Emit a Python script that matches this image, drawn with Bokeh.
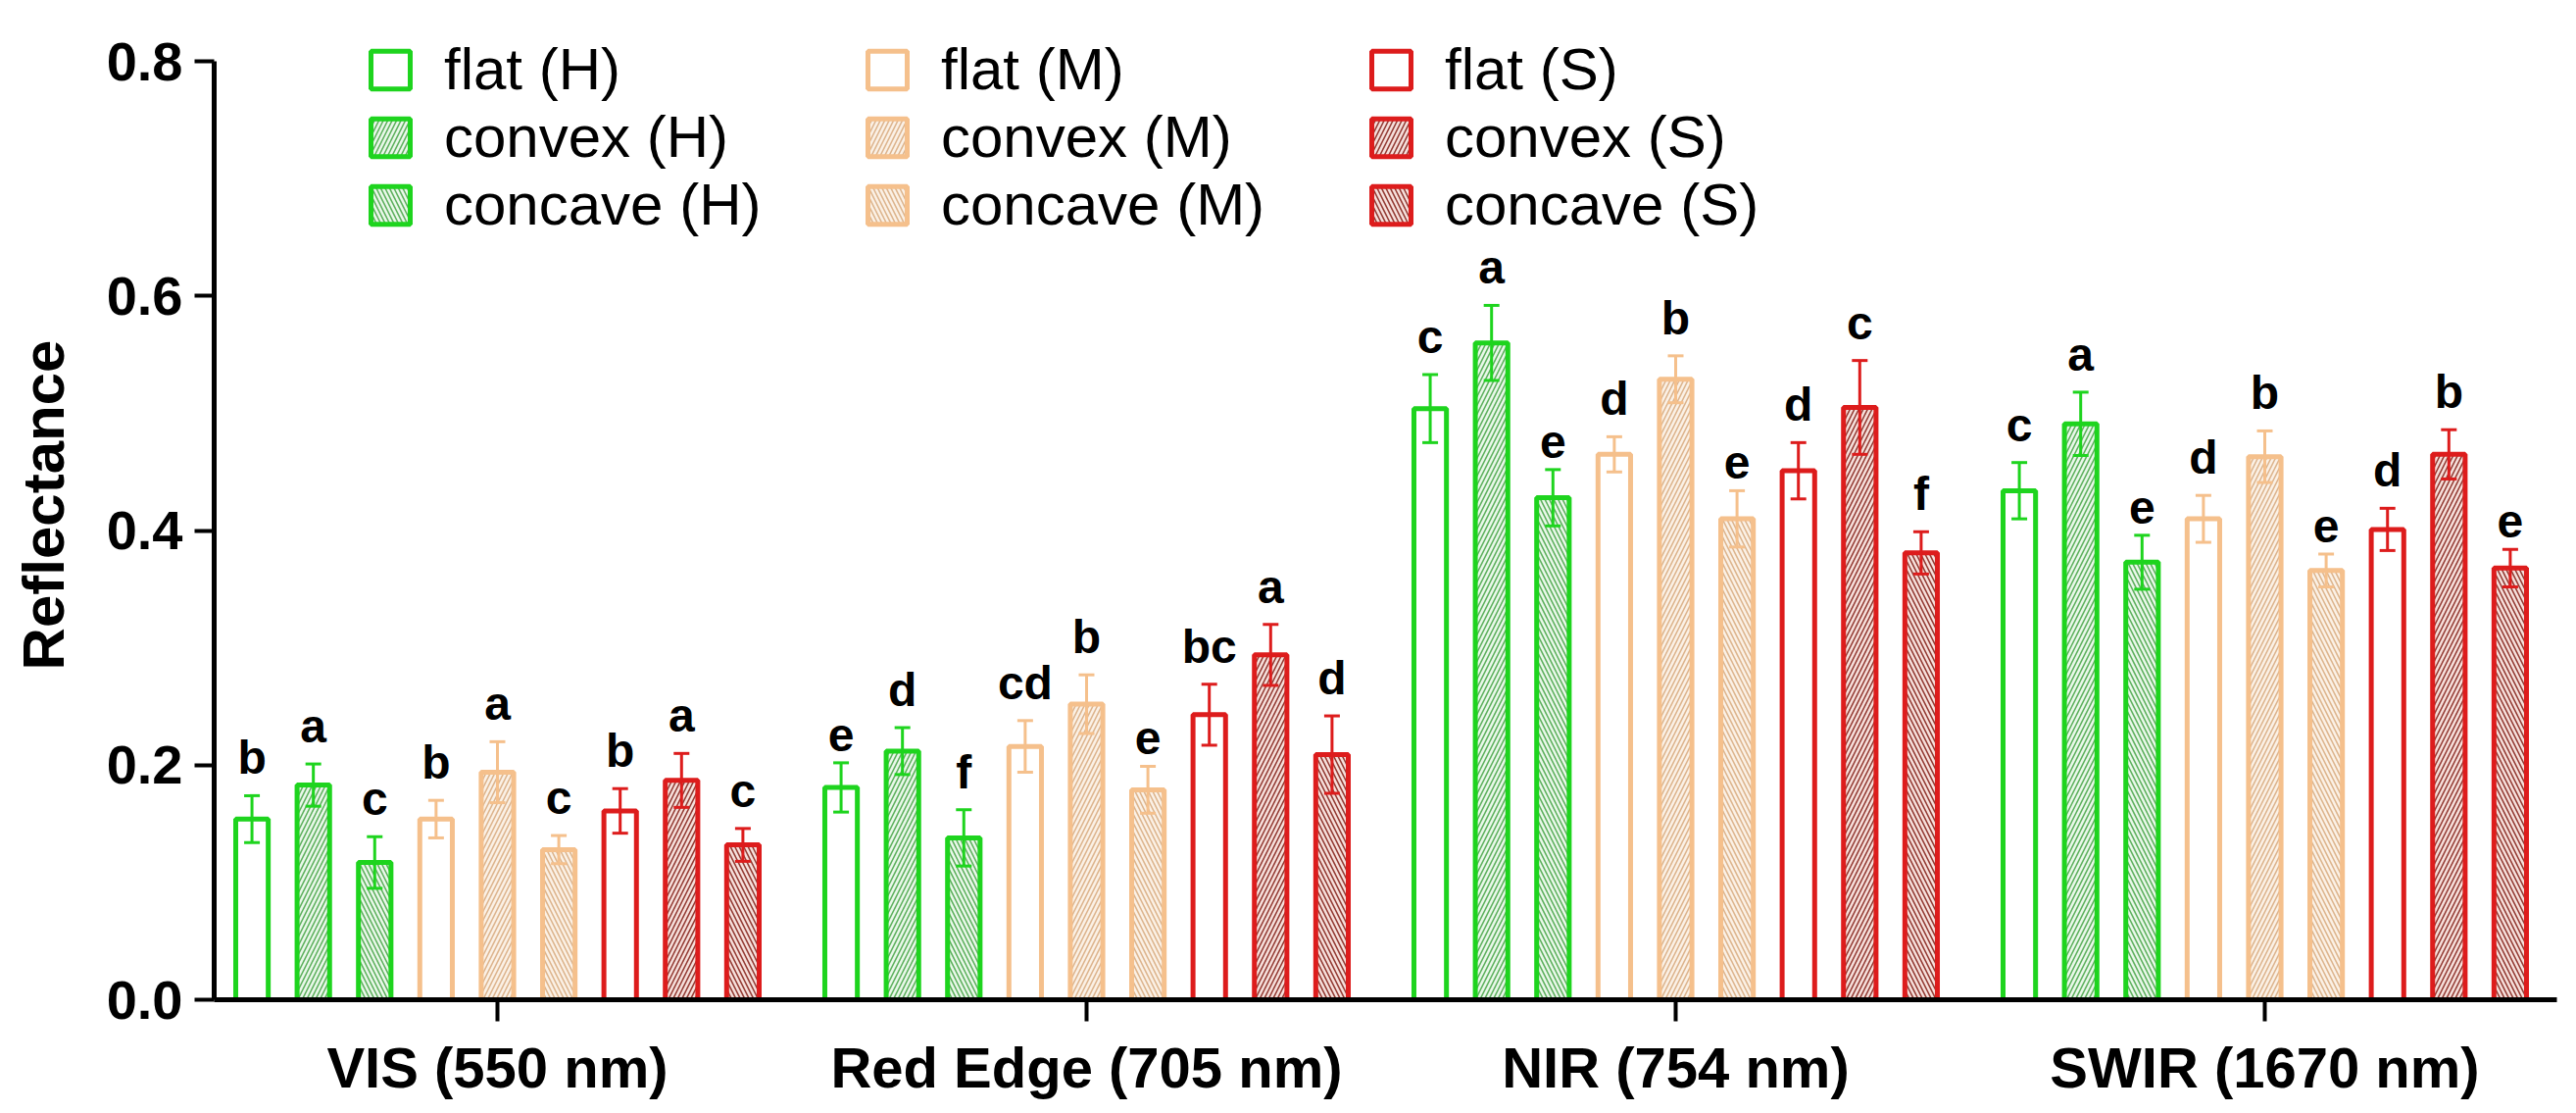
from bokeh.plotting import figure
from bokeh.models import (ColumnDataSource, Range1d, FixedTicker, Legend, LegendItem,
                          Whisker, TeeHead, PrintfTickFormatter)
from bokeh.core.properties import value
from bokeh.embed import file_html
from bokeh.resources import INLINE

bands = ["VIS (550 nm)", "Red Edge (705 nm)", "NIR (754 nm)", "SWIR (1670 nm)"]
series = ["flat (H)", "convex (H)", "concave (H)",
          "flat (M)", "convex (M)", "concave (M)",
          "flat (S)", "convex (S)", "concave (S)"]

vis_mean = [0.154, 0.183, 0.117, 0.154, 0.194, 0.128, 0.161, 0.187, 0.132]
vis_err = [0.020, 0.018, 0.022, 0.016, 0.026, 0.012, 0.019, 0.023, 0.014]
vis_letters = ["b", "a", "c", "b", "a", "c", "b", "a", "c"]

re_mean = [0.181, 0.212, 0.138, 0.216, 0.252, 0.179, 0.243, 0.294, 0.209]
re_err = [0.021, 0.020, 0.024, 0.022, 0.025, 0.020, 0.026, 0.026, 0.033]
re_letters = ["e", "d", "f", "cd", "b", "e", "bc", "a", "d"]

nir_mean = [0.504, 0.560, 0.428, 0.465, 0.529, 0.410, 0.451, 0.505, 0.381]
nir_err = [0.029, 0.032, 0.024, 0.015, 0.020, 0.024, 0.024, 0.040, 0.018]
nir_letters = ["c", "a", "e", "d", "b", "e", "d", "c", "f"]

swir_mean = [0.434, 0.491, 0.373, 0.410, 0.463, 0.366, 0.401, 0.465, 0.368]
swir_err = [0.024, 0.027, 0.023, 0.020, 0.022, 0.014, 0.018, 0.021, 0.016]
swir_letters = ["c", "a", "e", "d", "b", "e", "d", "b", "e"]

y_ticks = [0.0, 0.2, 0.4, 0.6, 0.8]

means = [vis_mean, re_mean, nir_mean, swir_mean]
errs = [vis_err, re_err, nir_err, swir_err]
letters = [vis_letters, re_letters, nir_letters, swir_letters]

GREEN = "#1ED41E"
TAN = "#F5C08C"
RED = "#DD1C1C"
line_colors = [GREEN] * 3 + [TAN] * 3 + [RED] * 3
hatch_colors = ["#1ED41E", "#4FA84F", "#4FA84F",
                TAN, "#D9AE84", "#D9AE84",
                RED, "#8A2A22", "#8A2A22"]
fill_colors = ["white", "#EAF8EA", "#EAF8EA",
               "white", "#FBF1E6", "#FBF1E6",
               "white", "#F6E0DC", "#F6E0DC"]
patterns = [" ", "/", "\\"] * 3

BAR_PITCH = 5
GROUP_PITCH = 48
group_x = [g * GROUP_PITCH for g in range(len(bands))]

font = "Liberation Sans"

p = figure(width=2628, height=1135, output_backend="svg", toolbar_location=None,
           x_range=Range1d(-23.08, 167.8), y_range=Range1d(0, 0.8436),
           min_border_left=218, min_border_right=20, min_border_top=10,
           min_border_bottom=116)
p.outline_line_color = None
p.xgrid.visible = False
p.ygrid.visible = False
p.background_fill_color = "white"

renderers = []
for i, name in enumerate(series):
    xs = [gx + (i - 4) * BAR_PITCH for gx in group_x]
    tops = [means[g][i] for g in range(len(bands))]
    es = [errs[g][i] for g in range(len(bands))]
    src = ColumnDataSource(dict(
        x=xs, top=tops,
        upper=[t + e for t, e in zip(tops, es)],
        lower=[t - e for t, e in zip(tops, es)],
        lab=[letters[g][i] for g in range(len(bands))],
    ))
    r = p.vbar(x="x", top="top", bottom=0, width=2.65, source=src,
               fill_color=fill_colors[i], line_color=line_colors[i], line_width=5,
               hatch_pattern=patterns[i], hatch_color=hatch_colors[i],
               hatch_scale=9, hatch_weight=1.6, hatch_alpha=0.9)
    renderers.append(r)
    w = Whisker(base="x", upper="upper", lower="lower", source=src,
                line_color=line_colors[i], line_width=3, level="annotation",
                upper_head=TeeHead(size=16, line_color=line_colors[i], line_width=3),
                lower_head=TeeHead(size=16, line_color=line_colors[i], line_width=3))
    p.add_layout(w)
    p.text(x="x", y="upper", text="lab", source=src, text_align="center",
           text_baseline="bottom", y_offset=-12, text_font=value(font),
           text_font_style="bold", text_font_size="48px", text_color="black")

# axes
for ax in (p.xaxis[0], p.yaxis[0]):
    ax.axis_line_width = 5
    ax.axis_line_color = "black"
    ax.major_tick_line_width = 4
    ax.major_tick_line_color = "black"
    ax.major_tick_in = 0
    ax.minor_tick_line_color = None
    ax.major_label_text_font = font
    ax.major_label_text_font_style = "bold"
    ax.major_label_text_color = "black"

p.xaxis.ticker = FixedTicker(ticks=group_x)
p.xaxis.major_label_overrides = {gx: b for gx, b in zip(group_x, bands)}
p.xaxis.major_tick_out = 22
p.xaxis.major_label_text_font_size = "58px"
p.xaxis.major_label_standoff = 14

p.yaxis.ticker = FixedTicker(ticks=y_ticks)
p.yaxis.bounds = (0, 0.8)
p.yaxis.formatter = PrintfTickFormatter(format="%.1f")
p.yaxis.major_tick_out = 20
p.yaxis.major_label_text_font_size = "56px"
p.yaxis.major_label_standoff = 12
p.yaxis.axis_label = "Reflectance"
p.yaxis.axis_label_text_font = font
p.yaxis.axis_label_text_font_style = "bold"
p.yaxis.axis_label_text_font_size = "60px"
p.yaxis.axis_label_text_color = "black"
p.yaxis.axis_label_standoff = 28

# legend: three columns (H, M, S)
col_x = [155, 662, 1176]
for c in range(3):
    items = [LegendItem(label=series[c * 3 + k], renderers=[renderers[c * 3 + k]])
             for k in range(3)]
    leg = Legend(items=items, location=(col_x[c], 776), orientation="vertical",
                 glyph_width=50, glyph_height=48, label_standoff=30,
                 label_text_font=font, label_text_font_size="60px",
                 label_text_color="black", spacing=0, padding=0, margin=0,
                 border_line_alpha=0, background_fill_alpha=0)
    p.add_layout(leg)

open("out.html", "w").write(file_html(p, INLINE))
